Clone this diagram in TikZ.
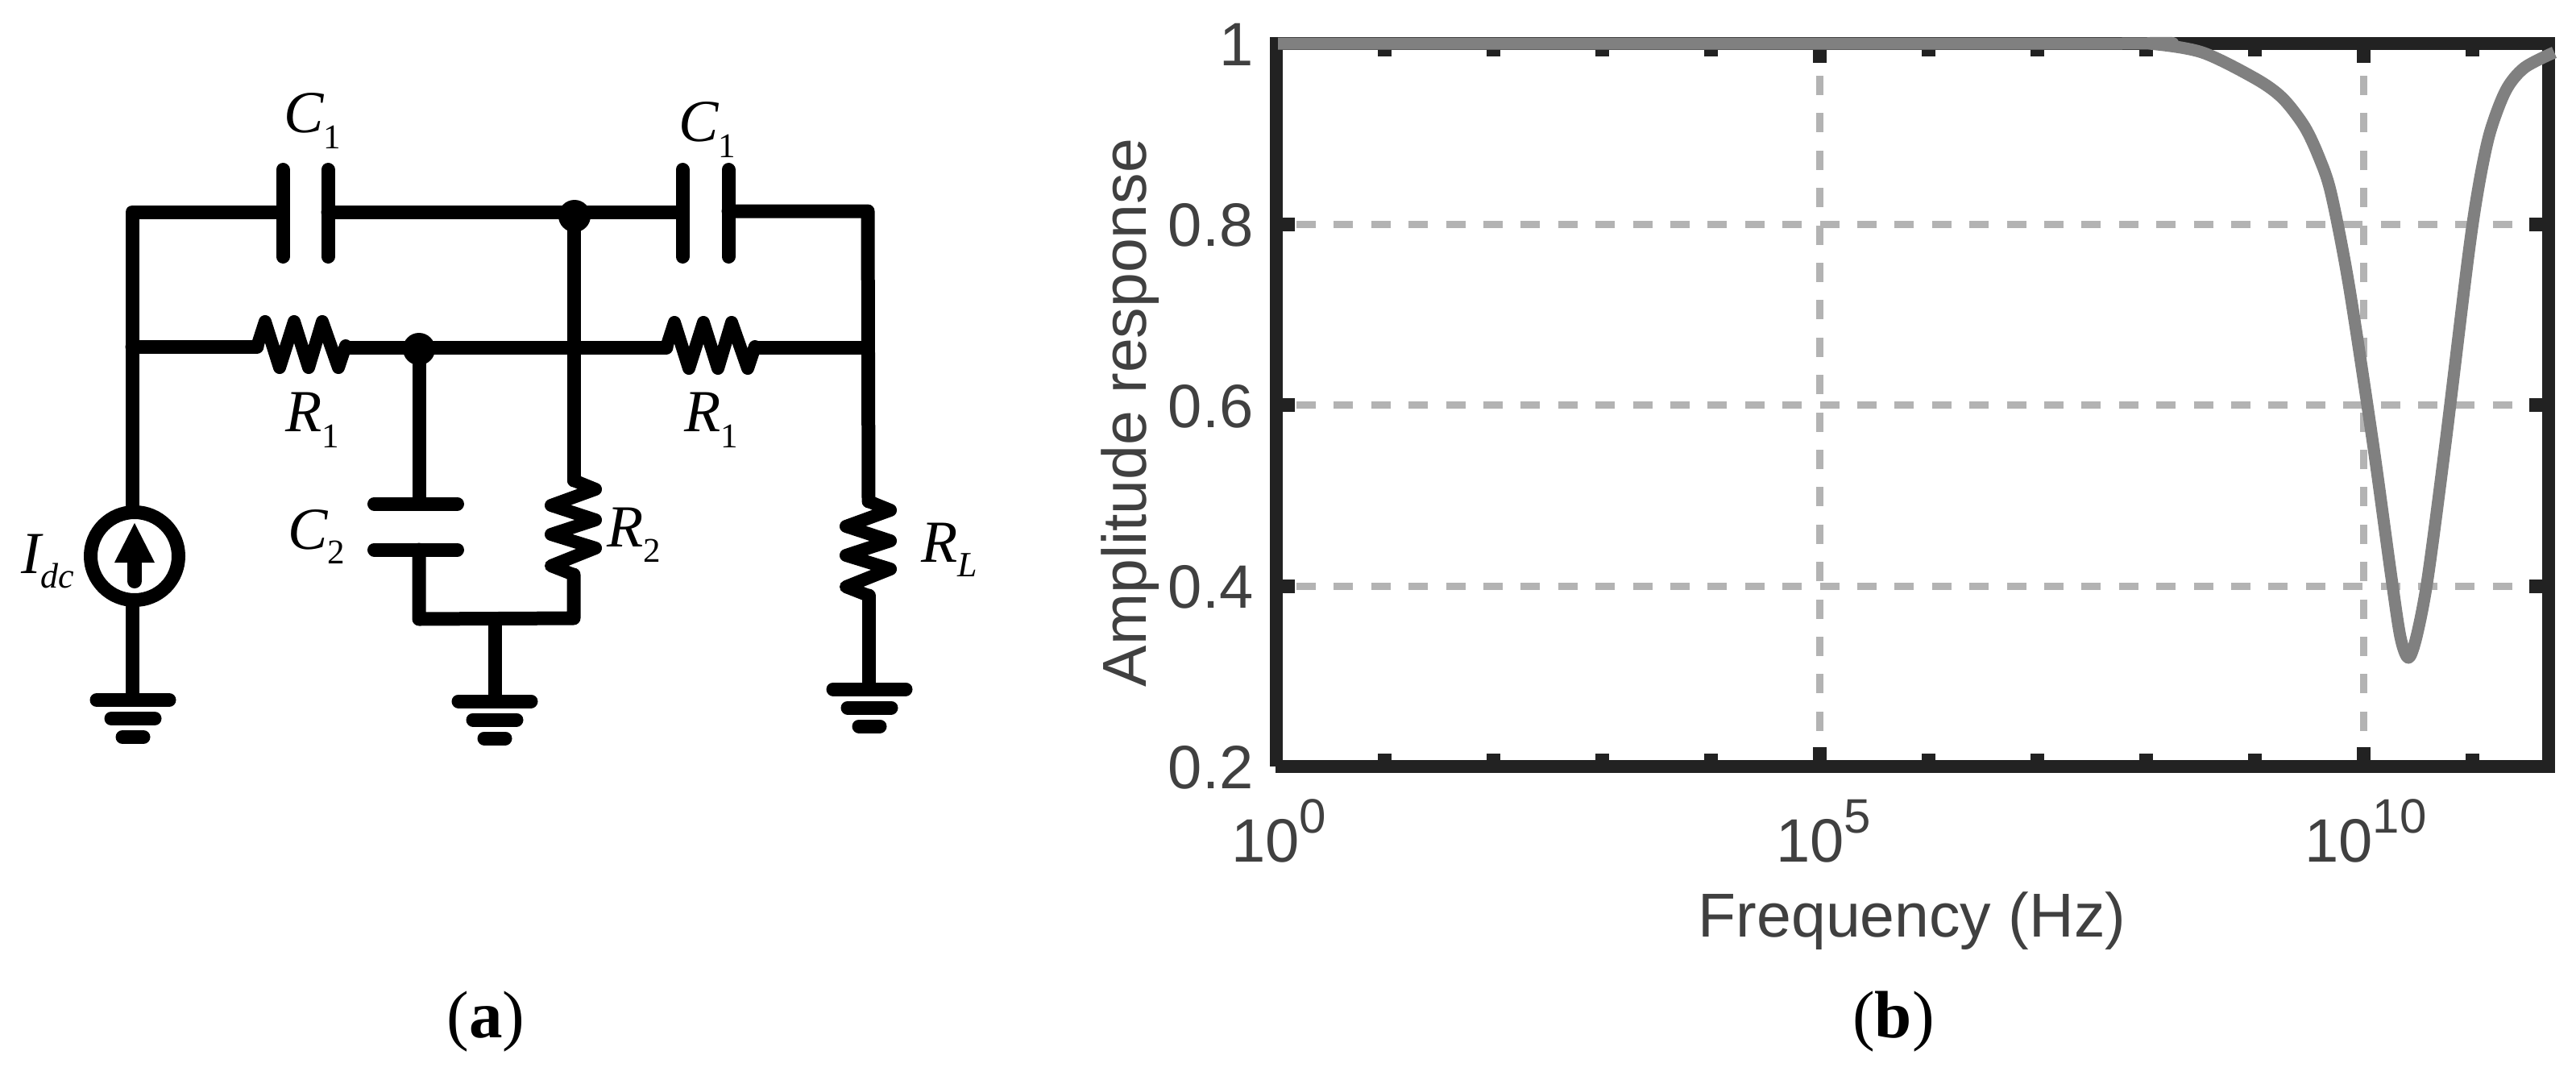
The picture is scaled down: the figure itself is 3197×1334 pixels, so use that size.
\documentclass[tikz,border=0pt]{standalone}
\usepackage{fontspec}
\setmainfont{Liberation Serif}
\setsansfont{Liberation Sans}
\definecolor{axisc}{HTML}{222222}
\definecolor{textc}{HTML}{404040}
\definecolor{gridc}{HTML}{B3B3B3}
\definecolor{curvec}{HTML}{808080}
\newcommand{\fs}[1]{\fontsize{#1}{#1}\selectfont}
\newcommand{\lblCR}[3]{{\fs{37}\itshape #1}\raisebox{#3pt}{\fs{21.5}#2}}
\newcommand{\tenp}[1]{{\sffamily\fs{38}10\raisebox{18pt}{\fs{30}#1}}}
\newcommand{\hzig}[1]{\draw[zig] (#1) -- ++(10,-31) -- ++(18,57) -- ++(18,-57) -- ++(18,57) -- ++(17,-57) -- ++(20,57) -- ++(9,-27);}
\newcommand{\vzig}[1]{\draw[zig] (#1) -- ++(27,11) -- ++(-55,20) -- ++(55,18) -- ++(-55,18) -- ++(55,17) -- ++(-55,22) -- ++(28,11);}
\begin{document}
\begin{tikzpicture}[x=0.5pt,y=-0.5pt,
  wire/.style={line width=8.5pt,black,line cap=round,line join=round},
  zig/.style={line width=8pt,black,line cap=round,line join=round},
  plate/.style={line width=8.5pt,black,line cap=round},
  frameb/.style={line width=8pt,axisc},
  gridv/.style={line width=4.5pt,gridc,dash pattern=on 12pt off 11.2pt},
  gridh/.style={line width=4.5pt,gridc,dash pattern=on 12pt off 11.2pt},
  tickl/.style={line width=8.5pt,axisc},
  curvel/.style={line width=7.5pt,curvec,line join=round},
  lab/.style={anchor=base west,inner sep=0pt,outer sep=0pt},
  ticktxt/.style={anchor=base east,inner sep=0pt,textc,font=\sffamily\fs{38}},
  xticktxt/.style={anchor=base,inner sep=0pt,textc},
  axtxt/.style={inner sep=0pt,textc,font=\sffamily\fs{38.5}},
  panel/.style={anchor=base,inner sep=0pt,font=\fs{41.5}}]
\useasboundingbox[fill=white] (0,0) rectangle (3197,1334);
% ---- circuit coordinates
\coordinate (tl) at (164,263);
\coordinate (ml) at (164,430);
\coordinate (c1a) at (351,263);
\coordinate (c1b) at (407,263);
\coordinate (jt) at (712,263);
\coordinate (c3a) at (847,263);
\coordinate (c3b) at (904,262);
\coordinate (tr) at (1077,262);
\coordinate (r1a) at (319,430);
\coordinate (r1b) at (429,431);
\coordinate (jm) at (520,431);
\coordinate (r3a) at (827,431);
\coordinate (r3b) at (937,431);
\coordinate (mr) at (1077,431);
\coordinate (c2a) at (520,625);
\coordinate (c2b) at (520,682);
\coordinate (br) at (520,768);
\coordinate (bm) at (614,768);
\coordinate (b2) at (712,767);
\coordinate (r2a) at (712,596);
\coordinate (r2b) at (712,713);
\coordinate (rla) at (1078,622);
\coordinate (rlb) at (1078,739);
\coordinate (gl) at (164,868);
\coordinate (gm) at (614,870);
\coordinate (gr) at (1078,855);
% ---- wires
\draw[wire] (c1a) -- (tl) -- (gl);
\draw[wire] (c1b) -- (jt) -- (c3a);
\draw[wire] (c3b) -- (tr) -- (rla);
\draw[wire] (ml) -- (r1a);
\draw[wire] (r1b) -- (r3a);
\draw[wire] (r3b) -- (mr);
\draw[wire] (jm) -- (c2a);
\draw[wire] (c2b) -- (br) -- (b2) -- (r2b);
\draw[wire] (jt) -- (r2a);
\draw[wire] (rlb) -- (gr);
\draw[wire] (bm) -- (gm);
% ---- junctions
\fill (713,268) circle[radius=20];
\fill (520,433) circle[radius=20];
% ---- capacitors
\draw[plate] (351,210.5) -- (351,318.5);
\draw[plate] (407,210.5) -- (407,318.5);
\draw[plate] (847,210.5) -- (847,318.5);
\draw[plate] (904,210.5) -- (904,318.5);
\draw[plate] (464.5,625) -- (567.5,625);
\draw[plate] (464.5,682) -- (567.5,682);
% ---- resistors
\hzig{r1a}
\hzig{r3a}
\vzig{r2a}
\vzig{rla}
% ---- current source
\node[circle,draw=black,line width=8.5pt,fill=white,minimum size=54.5pt,inner sep=0pt] (src) at (167,690) {};
\draw[line width=9pt,black,line cap=round] (167,721) -- (167,680);
\fill (167,649) -- (192,698) -- (142,698) -- cycle;
% ---- grounds
\foreach \gx/\gy in {165/868.5,614/870,1079/855}{
  \draw[plate] (\gx-45,\gy) -- (\gx+45,\gy);
  \draw[plate] (\gx-27,\gy+23) -- (\gx+27,\gy+23);
  \draw[plate] (\gx-13,\gy+46) -- (\gx+13,\gy+46);
}
% ---- circuit labels
\node[lab] (lc1) at (352,164) {\lblCR{C}{1}{-10}};
\node[lab] (lc3) at (842,175) {\lblCR{C}{1}{-10}};
\node[lab] (lr1) at (354,535) {\lblCR{R}{1}{-10}};
\node[lab] (lr3) at (849,535) {\lblCR{R}{1}{-10}};
\node[lab] (lc2) at (357,681) {\lblCR{C}{2}{-9}};
\node[lab] (lr2) at (753,678) {\lblCR{R}{2}{-9.5}};
\node[lab] (lrl) at (1143,697) {{\fs{37}\itshape R}\raisebox{-9pt}{\fs{22}\itshape L}};
\node[lab] (lid) at (26,711) {{\fs{37}\itshape I}\raisebox{-9pt}{\fs{22}\itshape dc}};
% ---- plot
\foreach \gy in {278,502.5,727} \draw[gridh] (1609,\gy) -- (3154,\gy);
\foreach \gx in {2258,2933} \draw[gridv] (\gx,47.6) -- (\gx,943);
\foreach \k in {1,...,11}{
  \draw[tickl] (1583+135*\k,951) -- (1583+135*\k,935);
  \draw[tickl] (1583+135*\k,54) -- (1583+135*\k,70);
}
\foreach \k in {5,10}{
  \draw[tickl] (1583+135*\k,951) -- (1583+135*\k,927);
  \draw[tickl] (1583+135*\k,54) -- (1583+135*\k,78);
}
\foreach \gy in {278,502.5,727}{
  \draw[tickl] (1584,\gy) -- (1607,\gy);
  \draw[tickl] (3162,\gy) -- (3139,\gy);
}
\draw[frameb] (1584,46) -- (1584,951);
\draw[frameb] (1583,951) -- (3171,951);
\draw[frameb] (1576,54) -- (3171,54);
\draw[frameb] (3162.5,46) -- (3162.5,955);
\draw[curvel] plot[smooth,tension=0.5] coordinates {(1586,54) (2620,54) (2667,54) (2733,65) (2800,98) (2833,122) (2860,157) (2878,195) (2893,240) (2915,353) (2945,550) (2967,710) (2979,790) (2989,816) (2999,790) (3013,717) (3035,550) (3063,320) (3076,232) (3090,165) (3110,112) (3133,84) (3170,65)};
\node[ticktxt] (y1) at (1556,81) {1};
\node[ticktxt] (y8) at (1556,305) {0.8};
\node[ticktxt] (y6) at (1556,530) {0.6};
\node[ticktxt] (y4) at (1556,754) {0.4};
\node[ticktxt] (y2) at (1556,978) {0.2};
\node[xticktxt] (x0) at (1587,1069) {\tenp{0}};
\node[xticktxt] (x5) at (2263,1069) {\tenp{5}};
\node[xticktxt] (x10) at (2936,1069) {\tenp{10}};
\node[axtxt,anchor=base] (xl) at (2373,1162) {Frequency (Hz)};
\node[axtxt,anchor=base,rotate=90] (yl) at (1422,512) {Amplitude response};
\node[panel] (pa) at (603,1287) {(\textbf{a})};
\node[panel] (pb) at (2350,1287) {(\textbf{b})};
\end{tikzpicture}
\end{document}
